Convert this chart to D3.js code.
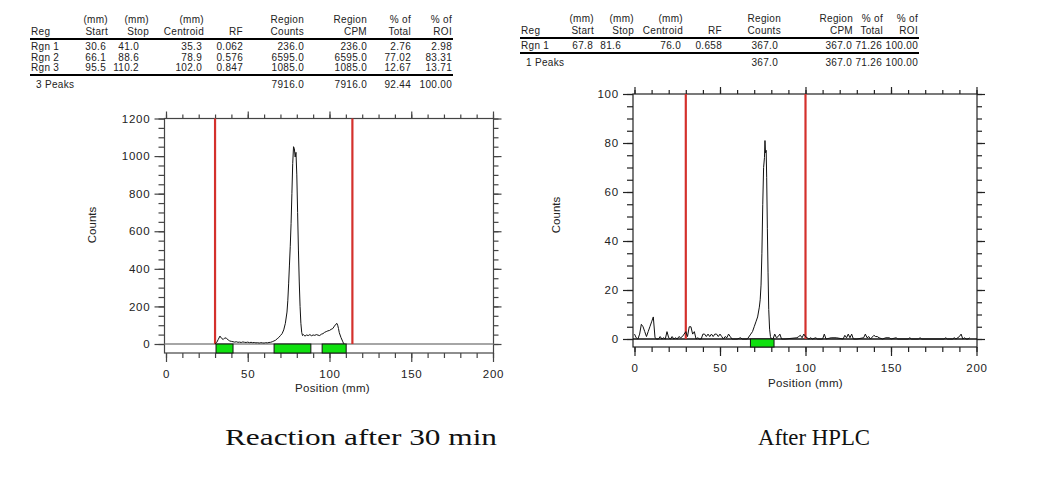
<!DOCTYPE html>
<html>
<head>
<meta charset="utf-8">
<script src="https://cdn.jsdelivr.net/npm/d3@7"></script>
<style>
  html, body { margin: 0; padding: 0; background: #fff; }
  svg { display: block; }
  .tbl text { font-family: "Liberation Sans", Arial, sans-serif; font-size: 10px; fill: #222; letter-spacing: 0.3px; }
  .ax text { font-family: "Liberation Sans", Arial, sans-serif; font-size: 11.5px; fill: #222; letter-spacing: 0.8px; }
  .lbl { font-family: "Liberation Sans", Arial, sans-serif; font-size: 11.5px; fill: #222; }
  .cap { font-family: "Liberation Serif", serif; font-size: 24px; fill: #111; }
</style>
</head>
<body>
<svg id="chart" width="1050" height="487"></svg>
<script>
// ---------- DATA ----------
const tableHead1 = ["", "(mm)", "(mm)", "(mm)", "", "Region", "Region", "% of", "% of"];
const tableHead2 = ["Reg", "Start", "Stop", "Centroid", "RF", "Counts", "CPM", "Total", "ROI"];

const leftRows = [
  ["Rgn 1", "30.6", "41.0", "35.3", "0.062", "236.0", "236.0", "2.76", "2.98"],
  ["Rgn 2", "66.1", "88.6", "78.9", "0.576", "6595.0", "6595.0", "77.02", "83.31"],
  ["Rgn 3", "95.5", "110.2", "102.0", "0.847", "1085.0", "1085.0", "12.67", "13.71"]
];
const leftFooter = ["3 Peaks", "", "", "", "", "7916.0", "7916.0", "92.44", "100.00"];

const rightRows = [
  ["Rgn 1", "67.8", "81.6", "76.0", "0.658", "367.0", "367.0", "71.26", "100.00"]
];
const rightFooter = ["1 Peaks", "", "", "", "", "367.0", "367.0", "71.26", "100.00"];

const xTicks = [0, 50, 100, 150, 200];
const leftYTicks = [0, 200, 400, 600, 800, 1000, 1200];
const rightYTicks = [0, 20, 40, 60, 80, 100];

const leftRegionStart = [30.6, 66.1, 95.5];
const leftRegionStop = [41.0, 88.6, 110.2];
const rightRegionStart = [67.8];
const rightRegionStop = [81.6];

const leftMarkers = [30, 114];
const rightMarkers = [30, 100];

const captions = ["Reaction after 30 min", "After HPLC"];

// Reaction after 30 min trace (position mm, counts)
const leftPos = [30,31,32,33,34,35,36,37,38,39,40,41,42,43,44,45,46,47,48,49,50,51,52,53,54,55,56,57,58,59,60,61,62,63,64,65,66,67,68,69,70,71,72,73,74,74.5,75,75.5,76,76.5,77,77.5,78,78.5,79,79.5,80,80.5,81,81.5,82,82.5,83,83.5,84,85,86,87,88,89,90,91,92,93,94,95,96,97,98,99,100,101,102,103,104,104.5,105,105.5,106,107,108,108.5,109];
const leftCounts = [0,8,25,42,30,24,33,30,22,16,14,12,10,12,9,10,8,11,9,8,10,7,9,7,8,6,7,5,7,6,5,7,6,8,9,12,16,20,28,35,45,55,75,110,170,230,320,420,520,640,800,960,1050,1040,995,1020,900,700,500,330,200,110,62,45,50,42,48,45,50,44,48,46,50,47,45,52,55,62,66,70,72,78,82,95,106,110,100,82,60,35,15,5,0];

// After HPLC trace
const rightPos = [0,1,2,3,4,5,6,7,8,9,10,11,12,13,14,15,16,17,18,19,20,21,22,23,24,25,26,27,28,29,30,31,32,33,34,35,36,37,38,39,40,41,42,43,44,45,46,47,48,49,50,51,52,53,54,55,56,57,58,60,62,63,66,68,69,70,71,72,73,73.5,74,74.5,75,75.5,76,76.3,76.6,77,77.3,77.7,78.1,78.5,79,79.5,80,81,82,83,84,85,86,87,88,95,96,97,98,99,100,101,102,103,104,106,107,110,111,112,115,118,122,123,124,125,126,127,128,130,134,135,136,137,138,140,141,142,143,145,147,149,150,153,154,160,161,162,166,167,168,181,182,183,186,187,188,190,191,192,193,194,195,196,197,199,200];
const rightCounts = [2,0.5,0,2,6,5,3,1,3,5,7,9,0.5,0,0,1,0,0.5,0,3,0.5,0,1,0,0.5,0,1,0.5,1,2,3,1,5,5,2,3,0,0.5,0,0,2,2,1,2,1,2,1,2,2,1,2,1,0,1,0.5,2,1,0,0,0,0.5,0,0,2,3,5,7,9,13,16,22,35,55,70,74,81,76,77,66,45,27,12,4,1,0,0,2,0.5,1,2,0,0,0,0.5,1,1.5,0.5,2,1,0.5,0,0.5,0,0.5,0,0,2,0,0.5,0.5,0,1.5,0.5,2,0.5,2,0,0,0.5,2,0.5,1,0,1.5,1,1,0.5,0,0.5,0.5,0,0.5,0,0,0.5,0,0,0.5,0,0,0.5,0,0,0.5,0,1,2,0,0.5,0,0,0.5];

// ---------- DRAWING ----------
const svg = d3.select("#chart");

function drawTable(cfg) {
  const g = svg.append("g").attr("class", "tbl");
  const colAnchor = (i) => (i === 0 ? "start" : "end");
  tableHead1.forEach((t, i) => {
    if (!t) return;
    g.append("text").attr("x", cfg.headX[i]).attr("y", cfg.yH1).attr("text-anchor", colAnchor(i)).text(t);
  });
  tableHead2.forEach((t, i) => {
    g.append("text").attr("x", cfg.headX[i]).attr("y", cfg.yH2).attr("text-anchor", colAnchor(i)).text(t);
  });
  g.append("line").attr("x1", cfg.x0).attr("x2", cfg.x1).attr("y1", cfg.yL1).attr("y2", cfg.yL1)
    .attr("stroke", "#000").attr("stroke-width", 2);
  cfg.rows.forEach((row, r) => {
    row.forEach((t, i) => {
      g.append("text").attr("x", cfg.dataX[i]).attr("y", cfg.yR0 + r * cfg.dy).attr("text-anchor", colAnchor(i)).text(t);
    });
  });
  const yL2 = cfg.yR0 + (cfg.rows.length - 1) * cfg.dy + 4;
  g.append("line").attr("x1", cfg.x0).attr("x2", cfg.x1).attr("y1", yL2).attr("y2", yL2)
    .attr("stroke", "#000").attr("stroke-width", 2);
  cfg.footer.forEach((t, i) => {
    if (!t) return;
    g.append("text").attr("x", i === 0 ? cfg.dataX[0] + 5 : cfg.dataX[i]).attr("y", yL2 + 13).attr("text-anchor", colAnchor(i)).text(t);
  });
}

drawTable({
  rows: leftRows, footer: leftFooter,
  headX: [31, 108, 149, 204, 243, 304, 367, 411, 452],
  dataX: [31, 106, 139, 202, 243, 304, 367, 411, 452],
  x0: 30, x1: 453, yH1: 23, yH2: 35, yL1: 39, yR0: 50, dy: 10.5
});
drawTable({
  rows: rightRows, footer: rightFooter,
  headX: [521, 594, 634, 683, 722, 781, 853, 883, 918],
  dataX: [521, 593, 621, 681, 722, 778, 852, 882, 918],
  x0: 520, x1: 919, yH1: 22, yH2: 34, yL1: 38, yR0: 49, dy: 10.5
});

function drawChart(cfg) {
  const g = svg.append("g");
  const x = d3.scaleLinear().domain([0, 200]).range(cfg.xr);
  const y = d3.scaleLinear().domain(cfg.yd).range(cfg.yr);
  const left = x(0) - 1.5, right = x(200) + 0.5, top = y(cfg.yd[1]), bottom = y(0) + cfg.below;

  // box
  g.append("rect").attr("x", left).attr("y", top).attr("width", right - left).attr("height", bottom - top)
    .attr("fill", "#fff").attr("stroke", cfg.boxColor).attr("stroke-width", 1.2);

  // axes
  const minorX = d3.range(0, 201, 10);
  const minorY = d3.range(cfg.yd[0], cfg.yd[1] + 0.001, cfg.yMinor);
  const fmtNone = () => "";
  const styleAxis = (sel) => { sel.select(".domain").remove(); sel.selectAll("line").attr("stroke", cfg.boxColor).attr("stroke-width", 1.2); };

  g.append("g").attr("class", "ax").attr("transform", `translate(0,${bottom})`)
    .call(d3.axisBottom(x).tickValues(minorX).tickSize(5).tickFormat(fmtNone)).call(styleAxis);
  g.append("g").attr("class", "ax").attr("transform", `translate(0,${bottom})`)
    .call(d3.axisBottom(x).tickValues(xTicks).tickSize(9).tickPadding(8).tickFormat(d3.format("d"))).call(styleAxis);
  g.append("g").attr("class", "ax").attr("transform", `translate(0,${top})`)
    .call(d3.axisTop(x).tickValues(minorX).tickSize(4).tickFormat(fmtNone)).call(styleAxis);
  g.append("g").attr("class", "ax").attr("transform", `translate(0,${top})`)
    .call(d3.axisTop(x).tickValues(xTicks).tickSize(7).tickFormat(fmtNone)).call(styleAxis);

  g.append("g").attr("class", "ax").attr("transform", `translate(${left},0)`)
    .call(d3.axisLeft(y).tickValues(minorY).tickSize(6).tickFormat(fmtNone)).call(styleAxis);
  g.append("g").attr("class", "ax").attr("transform", `translate(${left},0)`)
    .call(d3.axisLeft(y).tickValues(cfg.yTicks).tickSize(10).tickPadding(4).tickFormat(d3.format("d"))).call(styleAxis);
  g.append("g").attr("class", "ax").attr("transform", `translate(${right},0)`)
    .call(d3.axisRight(y).tickValues(minorY).tickSize(5).tickFormat(fmtNone)).call(styleAxis);
  g.append("g").attr("class", "ax").attr("transform", `translate(${right},0)`)
    .call(d3.axisRight(y).tickValues(cfg.yTicks).tickSize(8).tickFormat(fmtNone)).call(styleAxis);

  // baseline at zero
  g.append("line").attr("x1", left).attr("x2", right).attr("y1", y(0)).attr("y2", y(0))
    .attr("stroke", cfg.baseColor).attr("stroke-width", 1.6);

  // region bars
  cfg.regStart.forEach((s, i) => {
    g.append("rect").attr("x", x(s)).attr("y", y(0)).attr("width", x(cfg.regStop[i]) - x(s)).attr("height", bottom - y(0))
      .attr("fill", "#10e010").attr("stroke", "#111").attr("stroke-width", 1);
  });

  // markers
  cfg.markers.forEach((m) => {
    g.append("line").attr("x1", x(m)).attr("x2", x(m)).attr("y1", top).attr("y2", y(0))
      .attr("stroke", "#d4302c").attr("stroke-width", 2.2);
  });

  // trace
  const pts = cfg.pos.map((p, i) => [p, cfg.counts[i]]);
  g.append("path").datum(pts)
    .attr("fill", "none").attr("stroke", "#111").attr("stroke-width", 1)
    .attr("d", d3.line().x(d => x(d[0])).y(d => y(d[1])));

  // labels
  g.append("text").attr("class", "lbl").attr("x", (x(0) + x(200)) / 2 + cfg.xlabDx).attr("y", cfg.xlabY)
    .attr("text-anchor", "middle").attr("letter-spacing", "0.3px").text("Position (mm)");
  g.append("text").attr("class", "lbl").attr("transform", `translate(${cfg.ylabX},${cfg.ylabY}) rotate(-90)`)
    .attr("text-anchor", "middle").text("Counts");

  g.append("text").attr("class", "cap").attr("x", cfg.capX).attr("y", 445).attr("text-anchor", "middle")
    .attr("textLength", cfg.capLen).attr("lengthAdjust", "spacingAndGlyphs")
    .text(cfg.caption);
}

drawChart({
  xr: [166, 493], yd: [0, 1200], yr: [344, 118.5], below: 9, yMinor: 50, yTicks: leftYTicks,
  boxColor: "#444", baseColor: "#888",
  regStart: leftRegionStart, regStop: leftRegionStop, markers: leftMarkers,
  pos: leftPos, counts: leftCounts,
  xlabDx: 3, xlabY: 392, ylabX: 96, ylabY: 225,
  capX: 361, capLen: 272, caption: captions[0]
});
drawChart({
  xr: [634.5, 976.5], yd: [0, 100], yr: [339, 94], below: 8, yMinor: 5, yTicks: rightYTicks,
  boxColor: "#222", baseColor: "#111",
  regStart: rightRegionStart, regStop: rightRegionStop, markers: rightMarkers,
  pos: rightPos, counts: rightCounts,
  xlabDx: 0, xlabY: 387, ylabX: 560, ylabY: 215,
  capX: 814, capLen: 112, caption: captions[1]
});
</script>
</body>
</html>
